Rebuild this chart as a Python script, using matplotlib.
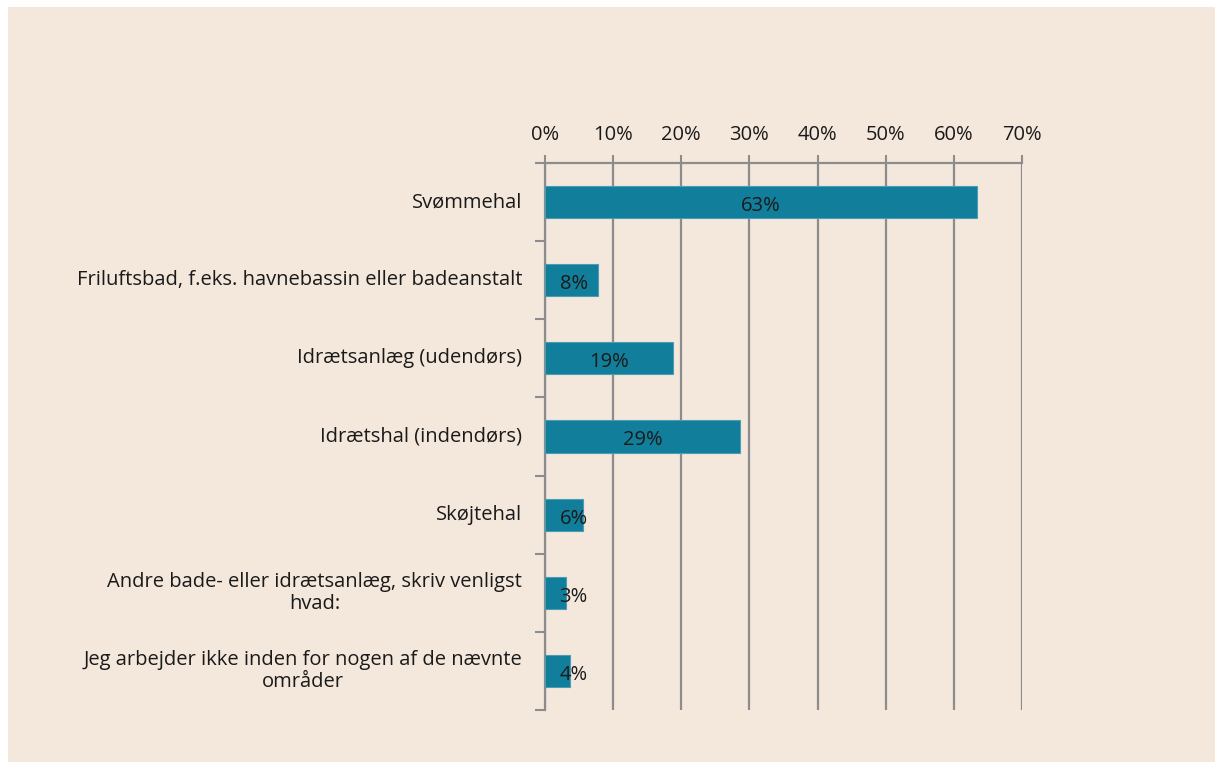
import matplotlib
matplotlib.use("Agg")
import matplotlib.pyplot as plt
from matplotlib.patches import Rectangle

# survey answers, top to bottom as in the reference
categories = [
    "Svømmehal",
    "Friluftsbad, f.eks. havnebassin eller badeanstalt",
    "Idrætsanlæg (udendørs)",
    "Idrætshal (indendørs)",
    "Skøjtehal",
    "Andre bade- eller idrætsanlæg, skriv venligst\nhvad:",
    "Jeg arbejder ikke inden for nogen af de nævnte\nområder",
]
values = [63.4, 7.8, 18.8, 28.6, 5.6, 3.1, 3.7]
x_ticks = [0, 10, 20, 30, 40, 50, 60, 70]

bg = "#F4E8DC"
bar_color = "#117E9B"
grid_color = "#8C8C8C"
text_color = "#1A1A1A"
fs = 14.5

plt.rcParams["font.family"] = ["Open Sans", "DejaVu Sans"]

fig = plt.figure(figsize=(12.15, 7.62), dpi=100, facecolor="white")
# beige panel with a thin white band at top and left
fig.patches.append(Rectangle((8 / 1215, 0), 1, 1 - 7 / 762,
                             transform=fig.transFigure, facecolor=bg,
                             edgecolor="none", zorder=-10))

ax = fig.add_axes([545 / 1215, 1 - 710 / 762, 477 / 1215, 547 / 762])
ax.set_facecolor("none")

y = list(range(len(categories)))
ax.barh(y, values, height=0.41, color=bar_color, edgecolor="#4A9DB3",
        linewidth=0.8, zorder=3)

for yi, v in zip(y, values):
    ax.text(max(v / 2, 4.2), yi + 0.05, f"{round(v)}%", ha="center",
            va="center", fontsize=fs, color=text_color, zorder=4)

ax.set_xlim(0, 70)
ax.set_ylim(len(categories) - 0.5, -0.5)

ax.xaxis.tick_top()
ax.set_xticks(x_ticks)
ax.set_xticklabels([f"{t}%" for t in x_ticks], fontsize=fs, color=text_color)
ax.tick_params(axis="x", length=6, width=1.5, color=grid_color, pad=7)
ax.grid(axis="x", color=grid_color, linewidth=1.6, zorder=1)

# category labels drawn by hand so multi-line text stays centred
ax.set_yticks([i - 0.5 for i in range(len(categories) + 1)])
ax.set_yticklabels([])
ax.tick_params(axis="y", length=7, width=1.5, color=grid_color)
for yi, cat in zip(y, categories):
    ax.annotate(cat, xy=(0, yi), xycoords=("axes fraction", "data"),
                xytext=(-16.5, 0), textcoords="offset points",
                ha="right", va="center", multialignment="center",
                fontsize=fs, color=text_color, linespacing=1.15)

for side in ["right", "bottom"]:
    ax.spines[side].set_visible(False)
for side in ["top", "left"]:
    ax.spines[side].set_color(grid_color)
    ax.spines[side].set_linewidth(1.6)

fig.savefig("out.png", dpi=100, facecolor="white")
